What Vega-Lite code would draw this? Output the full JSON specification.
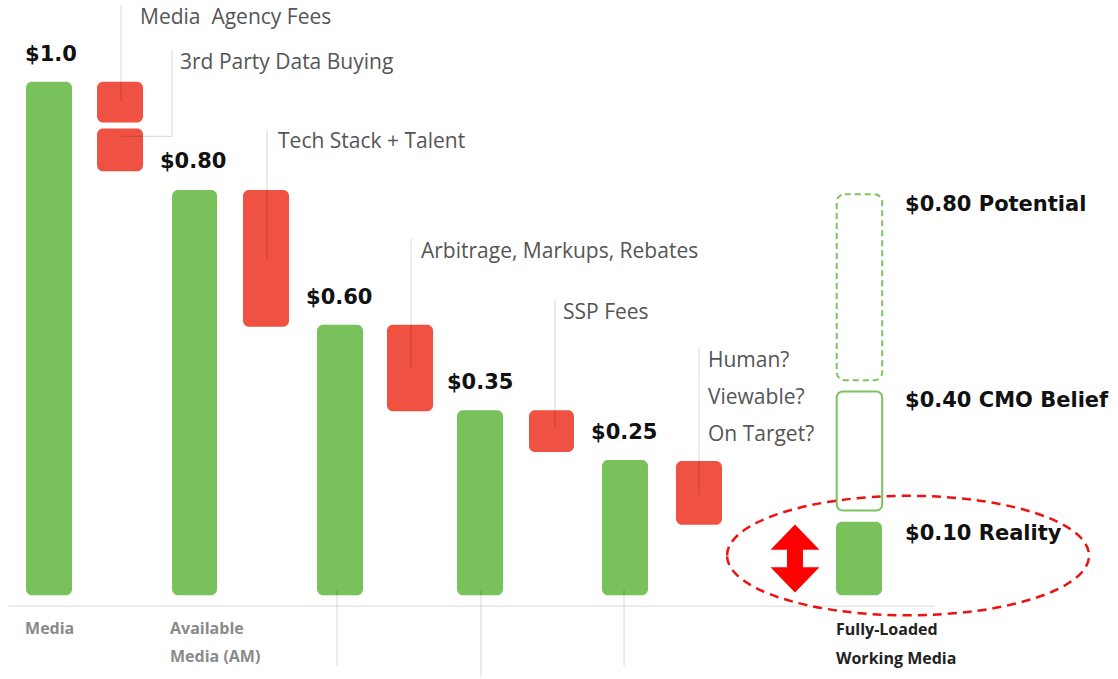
{
  "$schema": "https://vega.github.io/schema/vega-lite/v6.json",
  "width": 1118,
  "height": 679,
  "autosize": {"type": "fit", "contains": "padding"},
  "padding": 0,
  "background": "white",
  "config": {"axis": {"disable": true}, "view": {"stroke": null}},
  "datasets": {
    "bars": [
      {"stage": "Media", "kind": "net", "x0": -0.319, "x1": 0.319, "lo": 0, "hi": 1.0},
      {"stage": "Media Agency Fees", "kind": "cost", "x0": 0.665, "x1": 1.302, "lo": 0.9205, "hi": 1.0},
      {"stage": "3rd Party Data Buying", "kind": "cost", "x0": 0.665, "x1": 1.302, "lo": 0.8256, "hi": 0.909},
      {"stage": "Available Media (AM)", "kind": "net", "x0": 1.704, "x1": 2.327, "lo": 0, "hi": 0.789},
      {"stage": "Tech Stack + Talent", "kind": "cost", "x0": 2.687, "x1": 3.324, "lo": 0.523, "hi": 0.789},
      {"stage": "After Tech", "kind": "net", "x0": 3.712, "x1": 4.349, "lo": 0, "hi": 0.527},
      {"stage": "Arbitrage, Markups, Rebates", "kind": "cost", "x0": 4.681, "x1": 5.319, "lo": 0.3585, "hi": 0.527},
      {"stage": "After Arbitrage", "kind": "net", "x0": 5.651, "x1": 6.288, "lo": 0, "hi": 0.3605},
      {"stage": "SSP Fees", "kind": "cost", "x0": 6.648, "x1": 7.271, "lo": 0.279, "hi": 0.3605},
      {"stage": "After SSP", "kind": "net", "x0": 7.659, "x1": 8.296, "lo": 0, "hi": 0.2636},
      {"stage": "Human? Viewable? On Target?", "kind": "cost", "x0": 8.684, "x1": 9.321, "lo": 0.1376, "hi": 0.2616},
      {"stage": "Fully-Loaded Working Media", "kind": "net", "x0": 10.9, "x1": 11.537, "lo": 0, "hi": 0.1434}
    ],
    "outlines": [
      {"stage": "CMO Belief", "style": "solid", "x0": 10.91, "x1": 11.54, "lo": 0.165, "hi": 0.397},
      {"stage": "Potential", "style": "dashed", "x0": 10.91, "x1": 11.54, "lo": 0.4186, "hi": 0.781}
    ],
    "leaders": [
      {"x": 0.997, "x2": 0.997, "y": 1.149, "y2": 0.961},
      {"x": 1.704, "x2": 1.704, "y": 1.062, "y2": 0.8934},
      {"x": 0.997, "x2": 1.704, "y": 0.8934, "y2": 0.8934},
      {"x": 3.019, "x2": 3.019, "y": 0.907, "y2": 0.655},
      {"x": 5.014, "x2": 5.014, "y": 0.694, "y2": 0.442},
      {"x": 7.008, "x2": 7.008, "y": 0.574, "y2": 0.326},
      {"x": 9.003, "x2": 9.003, "y": 0.481, "y2": 0.196},
      {"x": 3.989, "x2": 3.989, "y": 0.0116, "y2": -0.137},
      {"x": 5.983, "x2": 5.983, "y": 0.0116, "y2": -0.16},
      {"x": 7.964, "x2": 7.964, "y": 0.0116, "y2": -0.137}
    ],
    "baseline": [
      {"x": -0.568, "x2": 12.27, "y": -0.0213, "y2": -0.0213}
    ],
    "labels": [
      {"text": "$1.0", "role": "value", "x": -0.332, "y": 1.052},
      {"text": "$0.80", "role": "value", "x": 1.537, "y": 0.843},
      {"text": "$0.60", "role": "value", "x": 3.56, "y": 0.5795},
      {"text": "$0.35", "role": "value", "x": 5.512, "y": 0.4128},
      {"text": "$0.25", "role": "value", "x": 7.507, "y": 0.3159},
      {"text": "$0.80 Potential", "role": "value", "x": 11.856, "y": 0.7597},
      {"text": "$0.40 CMO Belief", "role": "value", "x": 11.856, "y": 0.3779},
      {"text": "$0.10 Reality", "role": "value", "x": 11.856, "y": 0.1202},
      {"text": "Media\u00a0 Agency Fees", "role": "note", "x": 1.26, "y": 1.124},
      {"text": "3rd Party Data Buying", "role": "note", "x": 1.814, "y": 1.037},
      {"text": "Tech Stack + Talent", "role": "note", "x": 3.172, "y": 0.882},
      {"text": "Arbitrage, Markups, Rebates", "role": "note", "x": 5.152, "y": 0.6686},
      {"text": "SSP Fees", "role": "note", "x": 7.119, "y": 0.5504},
      {"text": "Human?", "role": "note", "x": 9.127, "y": 0.4554},
      {"text": "Viewable?", "role": "note", "x": 9.127, "y": 0.3837},
      {"text": "On Target?", "role": "note", "x": 9.127, "y": 0.312},
      {"text": "Media", "role": "axis", "x": -0.332, "y": -0.0659},
      {"text": "Available", "role": "axis", "x": 1.676, "y": -0.0659},
      {"text": "Media (AM)", "role": "axis", "x": 1.676, "y": -0.1202},
      {"text": "Fully-Loaded", "role": "axisDark", "x": 10.9, "y": -0.0678},
      {"text": "Working Media", "role": "axisDark", "x": 10.9, "y": -0.124}
    ],
    "callout": [
      {"item": "ellipse", "x": 11.898, "y": 0.0775},
      {"item": "arrow", "x": 10.332, "y": 0.0717}
    ]
  },
  "layer": [
    {
      "data": {"name": "baseline"},
      "mark": {"type": "rule", "color": "#e6e6e6", "strokeWidth": 1.5},
      "encoding": {
        "x": {"field": "x", "type": "quantitative", "scale": {"domain": [-0.679, 14.806], "nice": false, "zero": false}},
        "x2": {"field": "x2"},
        "y": {"field": "y", "type": "quantitative", "scale": {"domain": [-0.157, 1.159], "nice": false, "zero": false}},
        "y2": {"field": "y2"}
      }
    },
    {
      "data": {"name": "bars"},
      "mark": {"type": "rect", "cornerRadius": 6},
      "encoding": {
        "x": {"field": "x0", "type": "quantitative", "scale": {"domain": [-0.679, 14.806], "nice": false, "zero": false}},
        "x2": {"field": "x1"},
        "y": {"field": "lo", "type": "quantitative", "scale": {"domain": [-0.157, 1.159], "nice": false, "zero": false}},
        "y2": {"field": "hi"},
        "color": {"field": "kind", "type": "nominal", "scale": {"domain": ["net", "cost"], "range": ["#79C15B", "#EF5142"]}, "legend": null}
      }
    },
    {
      "data": {"name": "outlines"},
      "transform": [{"filter": "datum.style === 'solid'"}],
      "mark": {"type": "rect", "cornerRadius": 6, "fill": null, "fillOpacity": 0, "stroke": "#7CC35F", "strokeWidth": 2},
      "encoding": {
        "x": {"field": "x0", "type": "quantitative"},
        "x2": {"field": "x1"},
        "y": {"field": "lo", "type": "quantitative"},
        "y2": {"field": "hi"}
      }
    },
    {
      "data": {"name": "outlines"},
      "transform": [{"filter": "datum.style === 'dashed'"}],
      "mark": {"type": "rect", "cornerRadius": 8, "fill": null, "fillOpacity": 0, "stroke": "#7CC35F", "strokeWidth": 2, "strokeDash": [6, 4]},
      "encoding": {
        "x": {"field": "x0", "type": "quantitative"},
        "x2": {"field": "x1"},
        "y": {"field": "lo", "type": "quantitative"},
        "y2": {"field": "hi"}
      }
    },
    {
      "data": {"name": "leaders"},
      "mark": {"type": "rule", "color": "#000000", "opacity": 0.13, "strokeWidth": 1.2},
      "encoding": {
        "x": {"field": "x", "type": "quantitative"},
        "x2": {"field": "x2"},
        "y": {"field": "y", "type": "quantitative"},
        "y2": {"field": "y2"}
      }
    },
    {
      "data": {"name": "labels"},
      "transform": [{"filter": "datum.role === 'value'"}],
      "mark": {"type": "text", "align": "left", "baseline": "middle", "font": "DejaVu Sans", "fontWeight": "bold", "fontSize": 21, "color": "#111111"},
      "encoding": {
        "x": {"field": "x", "type": "quantitative"},
        "y": {"field": "y", "type": "quantitative"},
        "text": {"field": "text"}
      }
    },
    {
      "data": {"name": "labels"},
      "transform": [{"filter": "datum.role === 'note'"}],
      "mark": {"type": "text", "align": "left", "baseline": "middle", "font": "Open Sans", "fontSize": 21, "color": "#555555"},
      "encoding": {
        "x": {"field": "x", "type": "quantitative"},
        "y": {"field": "y", "type": "quantitative"},
        "text": {"field": "text"}
      }
    },
    {
      "data": {"name": "labels"},
      "transform": [{"filter": "datum.role === 'axis'"}],
      "mark": {"type": "text", "align": "left", "baseline": "middle", "font": "Open Sans", "fontWeight": "bold", "fontSize": 16, "color": "#8a8a8a"},
      "encoding": {
        "x": {"field": "x", "type": "quantitative"},
        "y": {"field": "y", "type": "quantitative"},
        "text": {"field": "text"}
      }
    },
    {
      "data": {"name": "labels"},
      "transform": [{"filter": "datum.role === 'axisDark'"}],
      "mark": {"type": "text", "align": "left", "baseline": "middle", "font": "Open Sans", "fontWeight": "bold", "fontSize": 16, "color": "#222222"},
      "encoding": {
        "x": {"field": "x", "type": "quantitative"},
        "y": {"field": "y", "type": "quantitative"},
        "text": {"field": "text"}
      }
    },
    {
      "data": {"name": "callout"},
      "transform": [{"filter": "datum.item === 'arrow'"}],
      "mark": {"type": "point", "filled": true, "color": "#FF0000", "opacity": 1, "size": 4624, "shape": "M0,-1L0.72,-0.26L0.235,-0.26L0.235,0.26L0.72,0.26L0,1L-0.72,0.26L-0.235,0.26L-0.235,-0.26L-0.72,-0.26Z"},
      "encoding": {
        "x": {"field": "x", "type": "quantitative"},
        "y": {"field": "y", "type": "quantitative"}
      }
    },
    {
      "data": {"name": "callout"},
      "transform": [{"filter": "datum.item === 'ellipse'"}],
      "mark": {"type": "point", "filled": false, "stroke": "#EE1111", "strokeWidth": 2.5, "strokeDash": [9, 6], "opacity": 1, "size": 131044, "shape": "M-1,0C-1,-0.1823 -0.5523,-0.33 0,-0.33C0.5523,-0.33 1,-0.1823 1,0C1,0.1823 0.5523,0.33 0,0.33C-0.5523,0.33 -1,0.1823 -1,0Z"},
      "encoding": {
        "x": {"field": "x", "type": "quantitative"},
        "y": {"field": "y", "type": "quantitative"}
      }
    }
  ]
}
